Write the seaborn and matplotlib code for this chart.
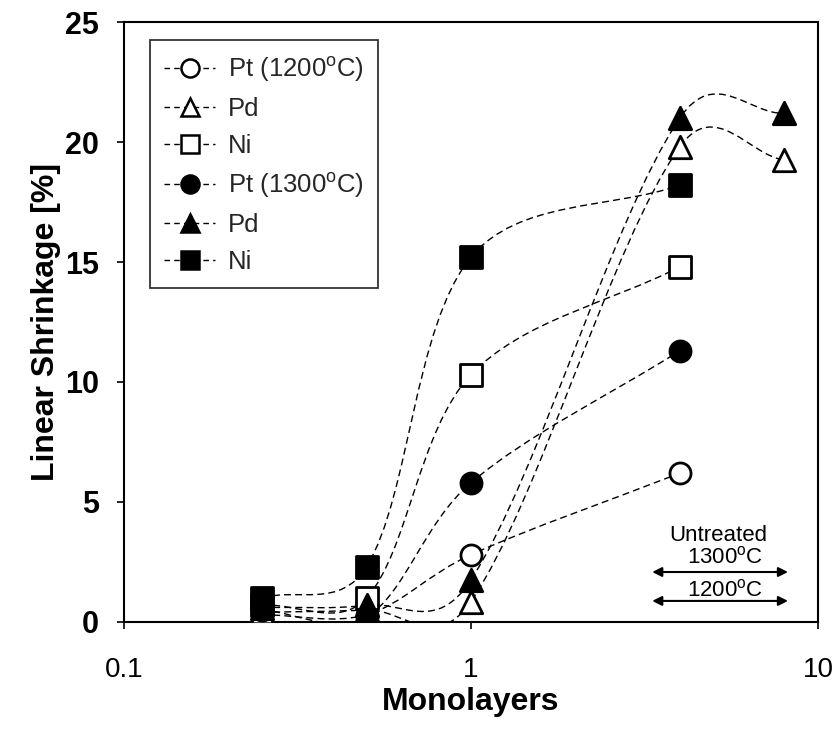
import numpy as np
import pandas as pd
import matplotlib
matplotlib.use("Agg")
import matplotlib.pyplot as plt
from matplotlib.path import Path
from matplotlib.patches import PathPatch
from matplotlib.lines import Line2D
import seaborn as sns

# ---- data ----
monolayers = [0.25, 0.5, 1, 4]
monolayers_pd = [0.25, 0.5, 1, 4, 8]
pt_1200 = [0.3, 0.3, 2.8, 6.2]
pd_1200 = [0.4, 0.5, 0.85, 19.8, 19.25]
ni_1200 = [0.7, 1.0, 10.3, 14.8]
pt_1300 = [0.5, 0.2, 5.8, 11.3]
pd_1300 = [0.6, 0.7, 1.75, 21.0, 21.2]
ni_1300 = [1.0, 2.3, 15.2, 18.2]
labels = ["Pt (1200$^{\\mathregular{o}}$C)", "Pd", "Ni",
          "Pt (1300$^{\\mathregular{o}}$C)", "Pd", "Ni"]
x_ticks = [0.1, 1, 10]
x_tick_labels = ["0.1", "1", "10"]
y_ticks = [0, 5, 10, 15, 20, 25]

series = [
    (monolayers, pt_1200, "o", "white"),
    (monolayers_pd, pd_1200, "^", "white"),
    (monolayers, ni_1200, "s", "white"),
    (monolayers, pt_1300, "o", "black"),
    (monolayers_pd, pd_1300, "^", "black"),
    (monolayers, ni_1300, "s", "black"),
]

sns.set_theme(style="white")
plt.rcParams["font.family"] = ["Liberation Sans", "DejaVu Sans"]
plt.rcParams["mathtext.fontset"] = "custom"
plt.rcParams["mathtext.rm"] = "Liberation Sans"

fig = plt.figure(figsize=(8.38, 7.36), dpi=100)
ax = fig.add_axes([0.148, 0.155, 0.828, 0.815])
ax.set_xscale("log")

# screen scale factors (px per decade, px per unit) used for smoothing shape
SX, SY = 347.0, 24.0


def smooth_path(xs, ys):
    p = np.column_stack([np.log10(np.asarray(xs, float)) * SX,
                         np.asarray(ys, float) * SY])
    n = len(p)
    verts = [p[0]]
    codes = [Path.MOVETO]

    def tangent(i):
        if i == 0 or i == n - 1:
            return None
        d1 = np.linalg.norm(p[i] - p[i - 1])
        d2 = np.linalg.norm(p[i + 1] - p[i])
        return p[i + 1] - p[i - 1], d1, d2

    for i in range(n - 1):
        t = tangent(i)
        if t is None:
            c1 = p[i] + (p[i + 1] - p[i]) / 3.0
        else:
            tv, d1, d2 = t
            w = 0.5 * 0.5 + 0.5 * d2 / (d1 + d2)
            c1 = p[i] + tv * w / 3.0
        t = tangent(i + 1)
        if t is None:
            c2 = p[i + 1] - (p[i + 1] - p[i]) / 3.0
        else:
            tv, d1, d2 = t
            w = 0.5 * 0.5 + 0.5 * d1 / (d1 + d2)
            c2 = p[i + 1] - tv * w / 3.0
        verts += [c1, c2, p[i + 1]]
        codes += [Path.CURVE4] * 3
    verts = np.array(verts)
    verts[:, 0] = 10 ** (verts[:, 0] / SX)
    verts[:, 1] = verts[:, 1] / SY
    return Path(verts, codes)


for xs, ys, m, fc in series:
    patch = PathPatch(smooth_path(xs, ys), fill=False, edgecolor="black",
                      lw=1.0, linestyle=(0, (5, 3)), zorder=2)
    ax.add_patch(patch)

for (xs, ys, m, fc) in series:
    df = pd.DataFrame({"x": xs, "y": ys})
    sns.scatterplot(data=df, x="x", y="y", marker=m, s=230 if m != "^" else 260,
                    color=fc, edgecolor="black", linewidth=2.0, ax=ax, zorder=3,
                    legend=False)

ax.set_xlim(0.1, 10)
ax.set_ylim(0, 25)
ax.set_xticks(x_ticks)
ax.set_xticklabels(x_tick_labels)
ax.set_yticks(y_ticks)
ax.minorticks_off()
ax.tick_params(axis="both", which="major", direction="out", length=5, width=1.2,
               color="black", labelcolor="black", bottom=True, left=True)
ax.tick_params(axis="x", labelsize=20, pad=20)
ax.tick_params(axis="y", labelsize=22, pad=13)
for lab in ax.get_yticklabels():
    lab.set_fontweight("bold")
for s in ax.spines.values():
    s.set_color("black")
    s.set_linewidth(1.5)
ax.set_xlabel("Monolayers", fontsize=23, fontweight="bold", color="black", labelpad=3)
ax.set_ylabel("Linear Shrinkage [%]", fontsize=23, fontweight="bold", color="black", labelpad=3)

handles = []
for (xs, ys, m, fc), lab in zip(series, labels):
    handles.append(Line2D([0], [0], color="black", lw=1.0, linestyle=(0, (4, 3)),
                          marker=m, markersize=13, markerfacecolor=fc,
                          markeredgecolor="black", markeredgewidth=1.8, label=lab))
leg = ax.legend(handles=handles, loc="upper left", bbox_to_anchor=(0.037, 0.97),
                fontsize=18.5, frameon=True, fancybox=False, edgecolor="black",
                handlelength=2.0, handletextpad=0.5, labelspacing=0.5,
                borderpad=0.55, borderaxespad=0)
leg.get_frame().set_linewidth(1.3)

# Untreated annotations
ax.text(5.15, 3.6, "Untreated", fontsize=16, ha="center", va="center", color="black")
ax.text(5.4, 2.67, "1300$^{\\mathregular{o}}$C", fontsize=16, ha="center", va="center", color="black")
ax.text(5.4, 1.33, "1200$^{\\mathregular{o}}$C", fontsize=16, ha="center", va="center", color="black")
for yv in (2.08, 0.875):
    ax.annotate("", xy=(8.2, yv), xytext=(3.33, yv),
                arrowprops=dict(arrowstyle="<|-|>", color="black", lw=1.5,
                                mutation_scale=14, shrinkA=0, shrinkB=0))

fig.savefig("out.png", dpi=100, facecolor="white")
